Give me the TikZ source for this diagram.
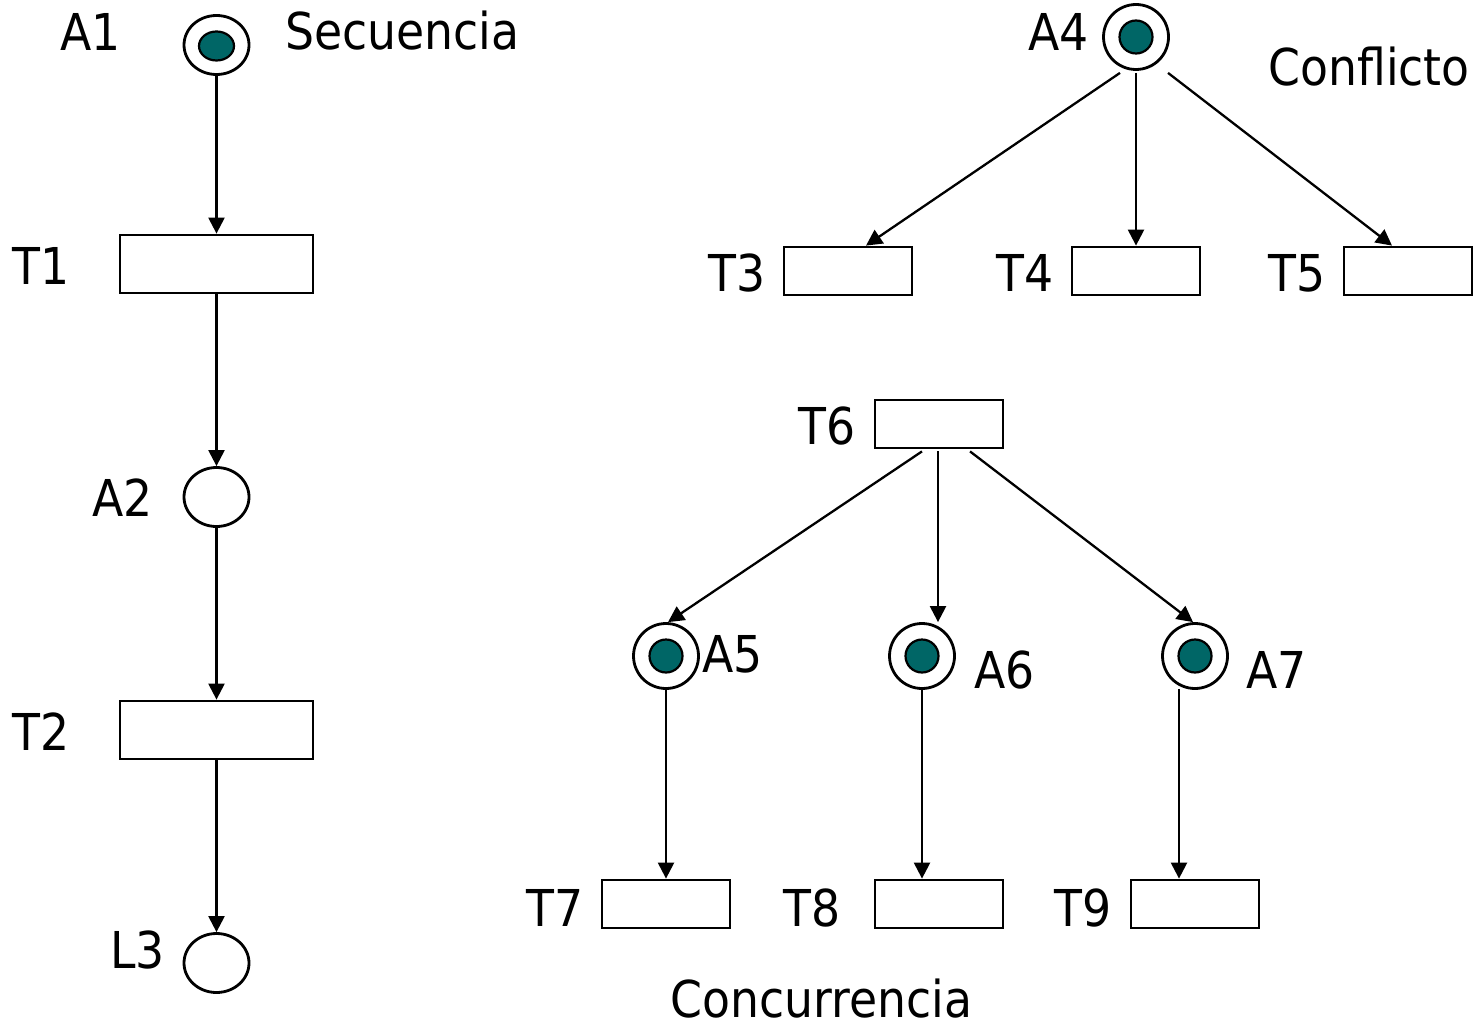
\documentclass[tikz,border=0pt]{standalone}
\usepackage{fontspec}
\setmainfont{DejaVu Sans}[FakeStretch=0.9]
\usetikzlibrary{shapes.geometric,arrows.meta,calc}
\definecolor{tok}{RGB}{0,102,102}
\begin{document}
\begin{tikzpicture}[x=0.5pt,y=-0.5pt,
 lbl/.style={inner sep=0pt, font=\fontsize{25.4}{30}\selectfont},
 lplace/.style={ellipse, draw, line width=1.4pt, minimum width=32.5pt, minimum height=29.5pt, inner sep=0pt},
 rplace/.style={circle, draw, line width=1.4pt, minimum size=32.5pt, inner sep=0pt},
 ltok/.style={ellipse, draw, fill=tok, line width=1.1pt, minimum width=17.5pt, minimum height=14.5pt, inner sep=0pt},
 rtok/.style={circle, draw, fill=tok, line width=1.1pt, minimum size=16.5pt, inner sep=0pt},
 btrans/.style={rectangle, draw, line width=1.4pt, minimum width=96.5pt, minimum height=29pt, inner sep=0pt},
 strans/.style={rectangle, draw, line width=1.4pt, minimum width=64pt, minimum height=24pt, inner sep=0pt},
 arr/.style={-{Triangle[length=8pt,width=8pt]}, line width=1.15pt}]
\useasboundingbox (0,0) rectangle (1476,1027);
% Secuencia
\node[lplace] (A1) at (216.5,45) {};
\node[ltok] (A1t) at (216.5,46) {};
\node[btrans] (T1) at (216.5,264) {};
\node[lplace] (A2) at (216.5,497) {};
\node[btrans] (T2) at (216.5,730) {};
\node[lplace] (L3) at (216.5,963) {};
\draw[arr] (A1) -- (T1);
\draw[arr] (T1) -- (A2);
\draw[arr] (A2) -- (T2);
\draw[arr] (T2) -- (L3);
% Conflicto
\node[rplace] (A4) at (1136,37) {};
\node[rtok] (A4t) at (A4) {};
\node[strans] (T3) at (848,271) {};
\node[strans] (T4) at (1136,271) {};
\node[strans] (T5) at (1408,271) {};
\draw[arr] ($(A4.south)+(-16,2)$) -- ($(T3.north)+(18,0)$);
\draw[arr] ($(A4.south)+(0,2)$) -- (T4.north);
\draw[arr] ($(A4.south)+(32,2)$) -- ($(T5.north)+(-16,0)$);
% Concurrencia
\node[strans] (T6) at (939,424) {};
\node[rplace] (A5) at (666,656) {};
\node[rtok] (A5t) at (A5) {};
\node[rplace] (A6) at (922,656) {};
\node[rtok] (A6t) at (A6) {};
\node[rplace] (A7) at (1195,656) {};
\node[rtok] (A7t) at (A7) {};
\node[strans] (T7) at (666,904) {};
\node[strans] (T8) at (939,904) {};
\node[strans] (T9) at (1195,904) {};
\draw[arr] ($(T6.south)+(-17,2)$) -- ($(A5.north)+(2,0)$);
\draw[arr] ($(T6.south)+(-1,2)$) -- ($(T6.south |- A6.north)+(-1,0)$);
\draw[arr] ($(T6.south)+(31,2)$) -- ($(A7.north)+(-2,0)$);
\draw[arr] (A5.south) -- (T7.north);
\draw[arr] (A6.south) -- (A6.south |- T8.north);
\draw[arr] ($(A7.south)+(-16,-1)$) -- ($(T9.north)+(-16,0)$);
% labels
\node[lbl, anchor=base west] (lA1) at (60,51) {A1};
\node[lbl, anchor=base west] (lSec) at (285,50) {Secuencia};
\node[lbl, anchor=base west] (lT1) at (12,284) {T1};
\node[lbl, anchor=base west] (lA2) at (92,516) {A2};
\node[lbl, anchor=base west] (lT2) at (12,750) {T2};
\node[lbl, anchor=base west] (lL3) at (110,968) {L3};
\node[lbl, anchor=base west] (lA4) at (1028,51) {A4};
\node[lbl, anchor=base west] (lCon) at (1268,86) {Conflicto};
\node[lbl, anchor=base west] (lT3) at (708,291) {T3};
\node[lbl, anchor=base west] (lT4) at (996,291) {T4};
\node[lbl, anchor=base west] (lT5) at (1268,291) {T5};
\node[lbl, anchor=base west] (lT6) at (798,444) {T6};
\node[lbl, anchor=base west] (lA5) at (702,672) {A5};
\node[lbl, anchor=base west] (lA6) at (974,688) {A6};
\node[lbl, anchor=base west] (lA7) at (1246,688) {A7};
\node[lbl, anchor=base west] (lT7) at (526,926) {T7};
\node[lbl, anchor=base west] (lT8) at (783,926) {T8};
\node[lbl, anchor=base west] (lT9) at (1054,926) {T9};
\node[lbl, anchor=base west] (lConc) at (670,1017) {Concurrencia};
\end{tikzpicture}
\end{document}
